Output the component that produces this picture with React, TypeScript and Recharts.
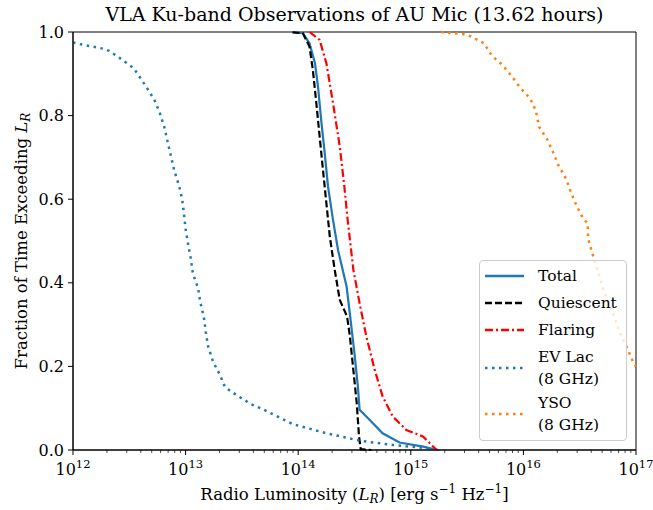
import { LineChart, Line, XAxis, YAxis, ReferenceArea } from 'recharts';

if (typeof document !== 'undefined') document.body.style.margin = '0';

const FONT = '"DejaVu Serif", serif';

// luminosity (erg/s/Hz) and fraction of time exceeding it
const totalL = [8.9e13, 1.1e14, 1.26e14, 1.41e14, 1.5e14, 1.6e14, 1.72e14, 1.84e14, 2.04e14, 2.26e14, 2.69e14, 2.92e14, 3.16e14, 3.39e14, 3.51e14, 4.32e14, 5.62e14, 7.94e14, 1.29e15, 1.58e15, 1.78e15];
const totalF = [1.0, 0.997, 0.973, 0.925, 0.869, 0.789, 0.71, 0.63, 0.55, 0.478, 0.391, 0.311, 0.231, 0.151, 0.096, 0.072, 0.04, 0.018, 0.008, 0.002, 0.0];

const quietL = [8.9e13, 1.1e14, 1.26e14, 1.35e14, 1.45e14, 1.55e14, 1.66e14, 1.78e14, 1.91e14, 2.11e14, 2.34e14, 2.72e14, 2.88e14, 3.09e14, 3.31e14, 3.47e14, 3.59e14, 4.47e14];
const quietF = [0.999, 0.997, 0.965, 0.909, 0.829, 0.75, 0.67, 0.59, 0.51, 0.431, 0.359, 0.319, 0.271, 0.191, 0.112, 0.032, 0.002, 0.0];

const flareL = [1.26e14, 1.55e14, 1.78e14, 2.04e14, 2.34e14, 2.57e14, 2.75e14, 3.09e14, 3.51e14, 4.03e14, 4.79e14, 5.62e14, 6.92e14, 9.12e14, 1.29e15, 1.58e15, 1.7e15];
const flareF = [1.0, 0.981, 0.925, 0.829, 0.726, 0.63, 0.55, 0.431, 0.351, 0.271, 0.191, 0.128, 0.08, 0.048, 0.032, 0.008, 0.0];

const evLacL = [1.0e12, 1.15e12, 1.86e12, 2.09e12, 2.69e12, 3.47e12, 4.47e12, 5.25e12, 5.89e12, 6.46e12, 6.92e12, 7.41e12, 7.94e12, 8.71e12, 9.33e12, 9.66e12, 1.0e13, 1.05e13, 1.11e13, 1.16e13, 1.22e13, 1.29e13, 1.35e13, 1.45e13, 1.51e13, 1.58e13, 1.74e13, 1.86e13, 2.0e13, 2.24e13, 2.92e13, 3.8e13, 4.9e13, 8.9e13, 1.78e14, 3.55e14, 6.9e14, 1.2e15, 1.58e15];
const evLacF = [0.975, 0.971, 0.96, 0.955, 0.935, 0.913, 0.869, 0.839, 0.807, 0.773, 0.738, 0.703, 0.668, 0.634, 0.6, 0.565, 0.529, 0.494, 0.459, 0.423, 0.405, 0.388, 0.354, 0.319, 0.283, 0.249, 0.214, 0.198, 0.182, 0.15, 0.129, 0.11, 0.097, 0.062, 0.04, 0.022, 0.012, 0.006, 0.002];

const ysoL = [1.86e15, 2.92e15, 3.39e15, 4.47e15, 5.25e15, 6.53e15, 7.94e15, 9.33e15, 1.15e16, 1.29e16, 1.38e16, 1.62e16, 1.82e16, 2.04e16, 2.4e16, 2.63e16, 2.95e16, 3.39e16, 3.72e16, 3.76e16, 4.07e16, 4.47e16, 5.13e16, 6.1e16, 7.24e16, 8.51e16, 9.55e16, 1.0e17];
const ysoF = [1.0, 0.995, 0.99, 0.973, 0.943, 0.921, 0.893, 0.867, 0.841, 0.811, 0.773, 0.744, 0.714, 0.682, 0.648, 0.618, 0.586, 0.554, 0.542, 0.506, 0.472, 0.439, 0.383, 0.335, 0.279, 0.239, 0.207, 0.2];

const majorX = [1e12, 1e13, 1e14, 1e15, 1e16, 1e17];
const minorMult = [2, 3, 4, 5, 6, 7, 8, 9];
const yTicks = [0, 0.2, 0.4, 0.6, 0.8, 1.0];

const xTicks = [
  ...majorX,
  ...majorX.slice(0, -1).flatMap((m) => minorMult.map((k) => k * m)),
].sort((a, b) => a - b);

const toRows = (xs: number[], ys: number[]) => xs.map((L, i) => ({ L, f: ys[i] }));

const series = [
  { name: 'Total', data: toRows(totalL, totalF), color: '#1f77b4', dash: undefined, width: 2.2 },
  { name: 'Quiescent', data: toRows(quietL, quietF), color: '#000000', dash: '7 3', width: 2.2 },
  { name: 'Flaring', data: toRows(flareL, flareF), color: '#ff0000', dash: '8 3 2 3', width: 2.2 },
  { name: 'EV Lac', data: toRows(evLacL, evLacF), color: '#1f77b4', dash: '2.5 4.5', width: 2.5 },
  { name: 'YSO', data: toRows(ysoL, ysoF), color: '#ff7f0e', dash: '2.5 4.5', width: 2.5 },
];

const legendItems = [
  { lines: ['Total'], color: '#1f77b4', dash: undefined },
  { lines: ['Quiescent'], color: '#000000', dash: '7 3' },
  { lines: ['Flaring'], color: '#ff0000', dash: '8 3 2 3' },
  { lines: ['EV Lac', '(8 GHz)'], color: '#1f77b4', dash: '2.5 4.5' },
  { lines: ['YSO', '(8 GHz)'], color: '#ff7f0e', dash: '2.5 4.5' },
];

const XTick = ({ x, y, payload }: any) => {
  const v = payload.value;
  const lg = Math.log10(v);
  const exp = Math.round(lg);
  const major = Math.abs(lg - exp) < 1e-6;
  return (
    <g>
      <line x1={x} x2={x} y1={y} y2={y + (major ? 5 : 3)} stroke="#000" strokeWidth={major ? 1 : 0.7} />
      {major && (
        <text x={x} y={y + 25} textAnchor="middle" fontSize={16} fontFamily={FONT} fill="#000">
          <tspan>10</tspan>
          <tspan dy={-7} fontSize={11.5}>{exp}</tspan>
        </text>
      )}
    </g>
  );
};

const XLabel = ({ viewBox }: any) => {
  const cx = viewBox.x + viewBox.width / 2;
  return (
    <text x={cx} y={viewBox.y + 50} textAnchor="middle" fontSize={16.5} fontFamily={FONT} fill="#000">
      <tspan>Radio Luminosity (</tspan>
      <tspan fontStyle="italic">L</tspan>
      <tspan fontStyle="italic" fontSize={12} dy={3}>R</tspan>
      <tspan dy={-3}>) [erg s</tspan>
      <tspan fontSize={12} dy={-7}>−1</tspan>
      <tspan dy={7}> Hz</tspan>
      <tspan fontSize={12} dy={-7}>−1</tspan>
      <tspan dy={7}>]</tspan>
    </text>
  );
};

const YLabel = ({ viewBox }: any) => {
  const cy = viewBox.y + viewBox.height / 2;
  const cx = 27;
  return (
    <text x={cx} y={cy} transform={`rotate(-90 ${cx} ${cy})`} textAnchor="middle" fontSize={16.5} fontFamily={FONT} fill="#000">
      <tspan>Fraction of Time Exceeding </tspan>
      <tspan fontStyle="italic">L</tspan>
      <tspan fontStyle="italic" fontSize={12} dy={3}>R</tspan>
    </text>
  );
};

export default function App() {
  return (
    <div style={{ position: 'relative', width: 653, height: 510, background: '#fff' }}>
      <div
        style={{
          position: 'absolute', left: 73, width: 563, top: 3, textAlign: 'center',
          fontFamily: FONT, fontSize: 19, color: '#000', whiteSpace: 'nowrap',
        }}
      >
        VLA Ku-band Observations of AU Mic (13.62 hours)
      </div>
      <LineChart width={653} height={510} margin={{ top: 32, right: 17, bottom: 0, left: 0 }}>
        <XAxis
          dataKey="L"
          type="number"
          scale="log"
          domain={[1e12, 1e17]}
          allowDataOverflow
          ticks={xTicks}
          interval={0}
          tick={<XTick />}
          tickLine={false}
          tickSize={0}
          tickMargin={0}
          height={60}
          axisLine={{ stroke: '#000' }}
          label={<XLabel />}
        />
        <YAxis
          dataKey="f"
          type="number"
          domain={[0, 1]}
          ticks={yTicks}
          width={73}
          tickSize={5}
          tickMargin={4}
          tickLine={{ stroke: '#000' }}
          axisLine={{ stroke: '#000' }}
          tick={{ fontSize: 16, fontFamily: FONT, fill: '#000' }}
          tickFormatter={(v: number) => v.toFixed(1)}
          label={<YLabel />}
        />
        <ReferenceArea x1={1e12} x2={1e17} y1={0} y2={1} fill="none" stroke="#000" strokeWidth={1} />
        {series.map((s) => (
          <Line
            key={s.name}
            data={s.data}
            dataKey="f"
            type="linear"
            stroke={s.color}
            strokeWidth={s.width}
            strokeDasharray={s.dash}
            dot={false}
            isAnimationActive={false}
          />
        ))}
      </LineChart>
      <div
        style={{
          position: 'absolute', left: 479, top: 260, width: 148, height: 181,
          border: '1px solid #cccccc', borderRadius: 4, background: 'rgba(255,255,255,0.8)',
          boxSizing: 'border-box',
        }}
      >
        <svg width={146} height={179}>
          {legendItems.map((it, i) => {
            const lineY = [15, 42, 69, 107, 153][i];
            return (
              <g key={it.lines[0]}>
                <line x1={5} x2={44} y1={lineY} y2={lineY} stroke={it.color} strokeWidth={2.5} strokeDasharray={it.dash} />
                {it.lines.map((t, j) => (
                  <text
                    key={t}
                    x={58}
                    y={lineY + 5 + (it.lines.length > 1 ? (j === 0 ? -11 : 11) : 0)}
                    fontSize={15.5}
                    fontFamily={FONT}
                    fill="#000"
                  >
                    {t}
                  </text>
                ))}
              </g>
            );
          })}
        </svg>
      </div>
    </div>
  );
}
